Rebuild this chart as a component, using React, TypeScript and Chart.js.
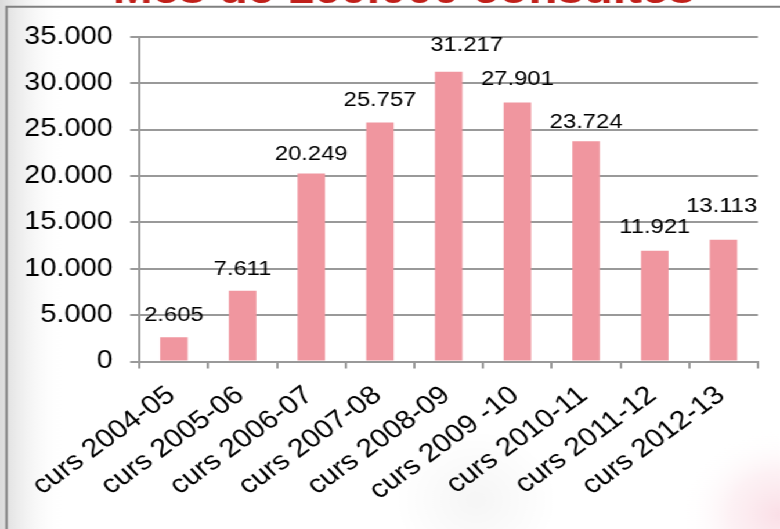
import React, { useEffect, useRef } from 'react';
import { Chart, registerables } from 'chart.js';

Chart.register(...registerables);

// ---- data ----
const categories = [
  'curs 2004-05',
  'curs 2005-06',
  'curs 2006-07',
  'curs 2007-08',
  'curs 2008-09',
  'curs 2009 -10',
  'curs 2010-11',
  'curs 2011-12',
  'curs 2012-13',
];
const consultes = [2605, 7611, 20249, 25757, 31217, 27901, 23724, 11921, 13113];
const yMin = 0;
const yMax = 35000;
const yStep = 5000;
const titleText = 'Més de 160.000 consultes';

// ---- styling: value-label gap above each bar and horizontal nudge (px) ----
const labelGap = [16.5, 15.5, 13.5, 16, 20.5, 18, 13.5, 17.5, 27.5];
const labelShiftX = [0, 0, 0, 0, 15.5, 0, 0, 0, -1.5];

// ---- geometry (chart drawn at W x H, then stretched horizontally to 780) ----
const W = 672;
const H = 529;
const SX = 780 / W;
const FONT = '"Liberation Sans", Arial, Helvetica, sans-serif';

const fmt = (v: number) => String(Math.round(v)).replace(/\B(?=(\d{3})+(?!\d))/g, '.');

const backdropPlugin = {
  id: 'backdrop',
  beforeDraw(chart: any) {
    const ctx = chart.ctx as CanvasRenderingContext2D;
    ctx.save();
    ctx.fillStyle = '#ffffff';
    ctx.fillRect(0, 0, W, H);
    const g = ctx.createLinearGradient(0, 0, 55, 0);
    g.addColorStop(0, 'rgba(215,215,215,0.9)');
    g.addColorStop(1, 'rgba(255,255,255,0)');
    ctx.fillStyle = g;
    ctx.fillRect(0, 0, 55, H);
    const s = ctx.createRadialGradient(410, 500, 5, 410, 500, 70);
    s.addColorStop(0, 'rgba(0,0,0,0.035)');
    s.addColorStop(1, 'rgba(0,0,0,0)');
    ctx.fillStyle = s;
    ctx.fillRect(300, 400, 220, 129);
    const r = ctx.createRadialGradient(672, 515, 2, 672, 515, 85);
    r.addColorStop(0, 'rgba(240,150,175,0.30)');
    r.addColorStop(0.5, 'rgba(242,170,190,0.16)');
    r.addColorStop(1, 'rgba(255,255,255,0)');
    ctx.fillStyle = r;
    ctx.fillRect(560, 400, W - 560, H - 400);
    ctx.strokeStyle = '#808080';
    ctx.lineWidth = 2;
    ctx.beginPath();
    ctx.moveTo(5.6, H + 2);
    ctx.lineTo(5.6, 6.8);
    ctx.lineTo(W + 2, 6.8);
    ctx.stroke();
    ctx.font = `bold 41px ${FONT}`;
    ctx.fillStyle = '#C0201A';
    ctx.textAlign = 'center';
    ctx.textBaseline = 'alphabetic';
    ctx.fillText(titleText, 348, 3);
    ctx.restore();
  },
};

const valueLabelPlugin = {
  id: 'valueLabels',
  afterDatasetsDraw(chart: any) {
    const ctx = chart.ctx as CanvasRenderingContext2D;
    const meta = chart.getDatasetMeta(0);
    ctx.save();
    ctx.font = `20.5px ${FONT}`;
    ctx.fillStyle = '#000000';
    ctx.textAlign = 'center';
    ctx.textBaseline = 'alphabetic';
    meta.data.forEach((bar: any, i: number) => {
      ctx.fillText(fmt(consultes[i]), bar.x + labelShiftX[i], bar.y - labelGap[i]);
    });
    ctx.restore();
  },
};

export default function App() {
  const canvasRef = useRef<HTMLCanvasElement | null>(null);

  useEffect(() => {
    document.documentElement.style.overflow = 'hidden';
    const canvas = canvasRef.current;
    if (!canvas) return;
    const chart = new Chart(canvas, {
      type: 'bar',
      data: {
        labels: categories,
        datasets: [
          {
            data: consultes,
            backgroundColor: '#F0969F',
            borderWidth: 0,
            barPercentage: 0.4,
            categoryPercentage: 1,
          },
        ],
      },
      options: {
        responsive: false,
        animation: false,
        devicePixelRatio: 1,
        layout: { padding: { top: 36.7, right: 19.1, left: 0, bottom: 0 } },
        plugins: {
          legend: { display: false },
          title: { display: false },
          tooltip: { enabled: false },
        },
        scales: {
          x: {
            grid: {
              drawOnChartArea: false,
              drawTicks: true,
              tickLength: 7,
              color: '#999999',
              lineWidth: 2,
              offset: true,
            },
            border: { display: true, color: '#999999', width: 2 },
            ticks: {
              autoSkip: false,
              minRotation: 40,
              maxRotation: 40,
              padding: 11.5,
              labelOffset: -2,
              color: '#000000',
              font: { family: FONT, size: 26 },
            },
            afterFit(scale: any) {
              scale.height = H - 361.5;
            },
          },
          y: {
            min: yMin,
            max: yMax,
            ticks: {
              stepSize: yStep,
              padding: 15,
              color: '#000000',
              font: { family: FONT, size: 25 },
              callback: (v: any) => fmt(Number(v)),
            },
            grid: { color: '#999999', lineWidth: 2, tickLength: 8 },
            border: { display: true, color: '#999999', width: 2 },
            afterFit(scale: any) {
              scale.width = 120.2;
            },
          },
        },
      },
      plugins: [backdropPlugin, valueLabelPlugin],
    });
    return () => chart.destroy();
  }, []);

  return (
    <div
      style={{
        position: 'absolute',
        left: 0,
        top: 0,
        width: W,
        height: H,
        transform: `scaleX(${SX})`,
        transformOrigin: '0 0',
        background: '#ffffff',
      }}
    >
      <canvas ref={canvasRef} width={W} height={H} />
    </div>
  );
}
